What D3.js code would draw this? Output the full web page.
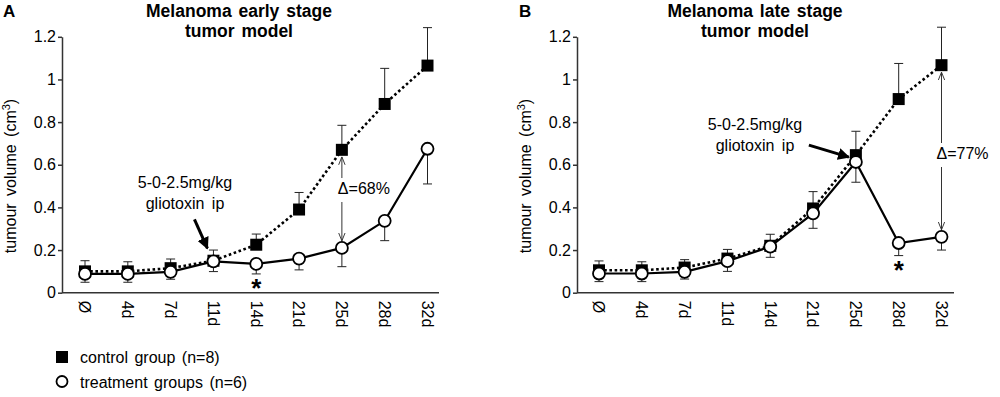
<!DOCTYPE html>
<html>
<head>
<meta charset="utf-8">
<script src="https://cdn.jsdelivr.net/npm/d3@7"></script>
<style>
  html, body { margin: 0; padding: 0; background: #fff; }
  svg { display: block; font-family: Arial, "Liberation Sans", sans-serif; }
</style>
</head>
<body>
<svg id="chart" width="1000" height="397"></svg>
<script>
// ---------- data ----------
const categories = ["Ø", "4d", "7d", "11d", "14d", "21d", "25d", "28d", "32d"];
const yTicks = [0, 0.2, 0.4, 0.6, 0.8, 1, 1.2];

const earlyControl       = [0.100, 0.100, 0.115, 0.150, 0.225, 0.390, 0.670, 0.885, 1.065];
const earlyControlUpper  = [0.150, 0.145, 0.158, 0.200, 0.275, 0.470, 0.785, 1.052, 1.243];
const earlyTreatment     = [0.088, 0.088, 0.098, 0.147, 0.135, 0.160, 0.210, 0.337, 0.675];
const earlyTreatmentLower= [0.049, 0.049, 0.063, 0.099, 0.088, 0.107, 0.122, 0.244, 0.510];

const lateControl        = [0.105, 0.105, 0.118, 0.160, 0.220, 0.395, 0.645, 0.908, 1.067];
const lateControlUpper   = [0.149, 0.145, 0.155, 0.203, 0.274, 0.474, 0.757, 1.075, 1.245];
const lateTreatment      = [0.090, 0.090, 0.098, 0.148, 0.216, 0.372, 0.613, 0.233, 0.262];
const lateTreatmentLower = [0.052, 0.052, 0.064, 0.100, 0.166, 0.302, 0.518, 0.174, 0.200];

const legendLabels = ["control group (n=8)", "treatment groups (n=6)"];

// ---------- drawing ----------
const svg = d3.select("#chart");
const defs = svg.append("defs");
defs.append("marker").attr("id", "thickHead")
  .attr("viewBox", "0 0 10 10").attr("refX", 9).attr("refY", 5)
  .attr("markerWidth", 4).attr("markerHeight", 4).attr("orient", "auto")
  .attr("markerUnits", "strokeWidth")
  .append("path").attr("d", "M0,0 L10,5 L0,10 Z").attr("fill", "#000");
defs.append("marker").attr("id", "thinHead")
  .attr("viewBox", "0 0 10 10").attr("refX", 10).attr("refY", 5)
  .attr("markerWidth", 8).attr("markerHeight", 8).attr("orient", "auto")
  .attr("markerUnits", "userSpaceOnUse")
  .append("path").attr("d", "M0,1 L10,5 L0,9").attr("fill", "none")
  .attr("stroke", "#333").attr("stroke-width", 1.2);

function panel(cfg) {
  const g = svg.append("g");
  const y = d3.scaleLinear().domain([0, 1.2]).range([292.7, 36.8]);
  const x = d3.scalePoint().domain(categories).range([cfg.x0, cfg.x0 + 342.5]);

  // y axis
  const ya = g.append("g").attr("transform", `translate(${cfg.axisX},0)`)
    .call(d3.axisLeft(y).tickValues(yTicks).tickSize(4).tickSizeOuter(0)
      .tickFormat(d => String(+d.toFixed(1))));
  ya.select(".domain").attr("stroke", "#333").attr("stroke-width", 1.5);
  ya.selectAll(".tick line").attr("stroke", "#333").attr("stroke-width", 1.5);
  ya.selectAll(".tick text").attr("font-size", 16).attr("fill", "#000")
    .attr("font-family", "Arial, 'Liberation Sans', sans-serif").attr("x", -6);

  // x axis line
  g.append("line").attr("x1", cfg.axisX).attr("x2", cfg.axisEnd)
    .attr("y1", y(0)).attr("y2", y(0)).attr("stroke", "#333").attr("stroke-width", 1.5);
  // x tick labels (rotated)
  g.selectAll("text.xl").data(categories).join("text").attr("class", "xl")
    .attr("transform", d => `translate(${x(d)},${y(0) + 8}) rotate(90)`)
    .attr("dy", "0.35em").attr("font-size", 16).attr("fill", "#000").text(d => d);

  // y axis title
  const t = g.append("text")
    .attr("transform", `translate(${cfg.axisX - 46},${176}) rotate(-90)`)
    .attr("text-anchor", "middle").attr("font-size", 16).attr("word-spacing", 3).attr("fill", "#000");
  t.append("tspan").text("tumour volume (cm");
  t.append("tspan").text("3").attr("font-size", 11).attr("dy", -6);
  t.append("tspan").text(")").attr("dy", 6);

  // titles
  g.append("text").attr("x", cfg.titleX).attr("y", 17).attr("text-anchor", "middle")
    .attr("font-size", 17.5).attr("word-spacing", 2).attr("font-weight", "bold").text(cfg.title1);
  g.append("text").attr("x", cfg.titleX).attr("y", 37).attr("text-anchor", "middle")
    .attr("font-size", 17.5).attr("word-spacing", 2).attr("font-weight", "bold").text("tumor model");
  g.append("text").attr("x", cfg.letterX).attr("y", 17)
    .attr("font-size", 17).attr("font-weight", "bold").text(cfg.letter);

  const idx = d3.range(categories.length);
  // error bars: control upper, treatment lower
  const cap = 4.5;
  idx.forEach(i => {
    const cx = x(categories[i]);
    g.append("line").attr("x1", cx).attr("x2", cx)
      .attr("y1", y(cfg.control[i])).attr("y2", y(cfg.controlUpper[i]))
      .attr("stroke", "#222").attr("stroke-width", 1);
    g.append("line").attr("x1", cx - cap).attr("x2", cx + cap)
      .attr("y1", y(cfg.controlUpper[i])).attr("y2", y(cfg.controlUpper[i]))
      .attr("stroke", "#222").attr("stroke-width", 1);
    g.append("line").attr("x1", cx).attr("x2", cx)
      .attr("y1", y(cfg.treat[i])).attr("y2", y(cfg.treatLower[i]))
      .attr("stroke", "#222").attr("stroke-width", 1);
    g.append("line").attr("x1", cx - cap).attr("x2", cx + cap)
      .attr("y1", y(cfg.treatLower[i])).attr("y2", y(cfg.treatLower[i]))
      .attr("stroke", "#222").attr("stroke-width", 1);
  });

  // control line (dotted) + squares
  const line = d3.line().x((d, i) => x(categories[i])).y(d => y(d));
  g.append("path").attr("d", line(cfg.control)).attr("fill", "none")
    .attr("stroke", "#000").attr("stroke-width", 2.6).attr("stroke-dasharray", "2.6,2.6");
  g.selectAll("rect.sq").data(cfg.control).join("rect").attr("class", "sq")
    .attr("x", (d, i) => x(categories[i]) - 6).attr("y", d => y(d) - 6)
    .attr("width", 12).attr("height", 12).attr("fill", "#000");

  // treatment line (solid) + circles
  g.append("path").attr("d", line(cfg.treat)).attr("fill", "none")
    .attr("stroke", "#000").attr("stroke-width", 2.2);
  g.selectAll("circle.ci").data(cfg.treat).join("circle").attr("class", "ci")
    .attr("cx", (d, i) => x(categories[i])).attr("cy", d => y(d)).attr("r", 6)
    .attr("fill", "#fff").attr("stroke", "#000").attr("stroke-width", 1.8);

  // annotation text: dose
  g.append("text").attr("x", cfg.doseX).attr("y", cfg.doseY).attr("text-anchor", "middle")
    .attr("font-size", 16).text("5-0-2.5mg/kg");
  g.append("text").attr("x", cfg.doseX).attr("y", cfg.doseY + 21).attr("text-anchor", "middle")
    .attr("font-size", 16).attr("word-spacing", 3).text("gliotoxin ip");
  // thick arrow
  const ai = categories.indexOf(cfg.arrowCat);
  g.append("line")
    .attr("x1", x(categories[ai]) + cfg.arrowFrom[0]).attr("y1", y(cfg.arrowRef[ai]) + cfg.arrowFrom[1])
    .attr("x2", x(categories[ai]) + cfg.arrowTo[0]).attr("y2", y(cfg.arrowRef[ai]) + cfg.arrowTo[1])
    .attr("stroke", "#000").attr("stroke-width", 3).attr("marker-end", "url(#thickHead)");

  // delta arrow
  const di = categories.indexOf(cfg.deltaCat);
  const dx = x(categories[di]);
  g.append("line").attr("x1", dx).attr("x2", dx)
    .attr("y1", cfg.deltaTextY - 16).attr("y2", y(cfg.control[di]) + 7)
    .attr("stroke", "#333").attr("stroke-width", 1).attr("marker-end", "url(#thinHead)");
  g.append("line").attr("x1", dx).attr("x2", dx)
    .attr("y1", cfg.deltaTextY + 8).attr("y2", y(cfg.treat[di]) - 7)
    .attr("stroke", "#333").attr("stroke-width", 1).attr("marker-end", "url(#thinHead)");
  g.append("text").attr("x", dx + cfg.deltaDX).attr("y", cfg.deltaTextY).attr("text-anchor", "middle")
    .attr("font-size", 16).text(cfg.deltaText);

  // asterisk
  const si = categories.indexOf(cfg.starCat);
  g.append("text").attr("x", x(categories[si])).attr("y", y(cfg.treatLower[si]) + 23.5)
    .attr("text-anchor", "middle").attr("font-size", 26).attr("font-weight", "bold").text("*");
}

panel({
  x0: 85, axisX: 62, axisEnd: 439, titleX: 239, letterX: 3, letter: "A",
  title1: "Melanoma early stage",
  control: earlyControl, controlUpper: earlyControlUpper,
  treat: earlyTreatment, treatLower: earlyTreatmentLower,
  doseX: 185, doseY: 188,
  arrowCat: "11d", arrowRef: earlyTreatment, arrowFrom: [-19, -42], arrowTo: [-6, -13],
  deltaCat: "25d", deltaText: "Δ=68%", deltaTextY: 194, deltaDX: 22,
  starCat: "14d"
});
panel({
  x0: 599, axisX: 577, axisEnd: 954, titleX: 755, letterX: 519, letter: "B",
  title1: "Melanoma late stage",
  control: lateControl, controlUpper: lateControlUpper,
  treat: lateTreatment, treatLower: lateTreatmentLower,
  doseX: 755, doseY: 130,
  arrowCat: "25d", arrowRef: lateControl, arrowFrom: [-47, -10], arrowTo: [-7, 2],
  deltaCat: "32d", deltaText: "Δ=77%", deltaTextY: 159, deltaDX: 21,
  starCat: "28d"
});

// legend
const lg = svg.append("g");
lg.append("rect").attr("x", 56).attr("y", 351).attr("width", 12).attr("height", 12).attr("fill", "#000");
lg.append("circle").attr("cx", 62).attr("cy", 381.5).attr("r", 5.5)
  .attr("fill", "#fff").attr("stroke", "#000").attr("stroke-width", 1.8);
lg.selectAll("text").data(legendLabels).join("text")
  .attr("x", 80).attr("y", (d, i) => 363 + i * 25).attr("font-size", 16).attr("word-spacing", 2).text(d => d);
</script>
</body>
</html>
